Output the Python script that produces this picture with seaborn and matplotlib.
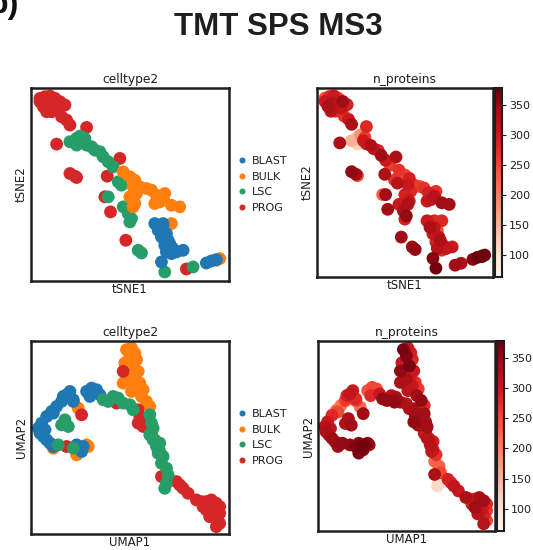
import numpy as np
import pandas as pd
import matplotlib
matplotlib.use("Agg")
import matplotlib.pyplot as plt
import seaborn as sns

# ---- data ----
celltypes = ["BLAST", "BULK", "LSC", "PROG"]
celltype_colors = ["#1f77b4", "#ff7f0e", "#279e68", "#d62728"]

tsne1 = [-27.0, -25.5, -24.0, -22.5, -21.0, -19.5, -26.0, -24.5, -23.0, -21.5, -25.0, -23.5, -27.0,
         -20.5, -19.0, -18.0, -13.0, -22.0, -18.0, -16.5, -16.0, -3.0, -6.8, -7.5, -5.8, -1.2, 17.0,
         -18.0, -16.0, -15.0, -14.0, -13.0, -11.5, -10.5, -9.0, -8.0, -6.5, -5.0, -16.0, -13.5,
         -3.5, -2.5, -6.5, -2.0, -0.5, 0.5, 0.0, 2.5, 3.5, 10.5, 19.0,
         -2.0, 0.0, 1.5, 1.0, 2.0, 1.5, 1.0, 3.0, 5.0, 6.5, 8.0, 9.0, 7.5, 10.5, 12.5, 15.0, 10.0,
         0.0, 12.5, 27.0, 26.0,
         7.5, 9.0, 10.0, 11.0, 9.5, 11.5, 10.5, 12.0, 13.0, 11.0, 12.5, 14.0, 16.0, 8.5, 10.0,
         9.5, 23.0, 24.5, 26.0]
tsne2 = [24.5, 26.0, 26.2, 25.5, 24.5, 23.5, 23.0, 24.0, 23.0, 22.5, 21.5, 21.5, 25.5,
         20.0, 19.0, 17.5, 16.8, 11.8, 3.0, 2.2, 1.8, 7.5, 2.2, -4.0, -8.5, -17.0, -25.6,
         12.5, 13.5, 14.2, 12.5, 11.5, 11.0, 10.0, 9.5, 8.0, 6.5, 5.0, 11.5, 13.5,
         0.5, -0.5, -4.0, -7.0, -9.0, -10.5, -11.5, -20.0, -20.8, -26.5, -25.0,
         3.5, 2.0, 1.0, -1.0, -3.0, -6.0, -7.0, -1.0, -1.5, -2.0, -3.5, -5.5, -6.0, -3.0, -6.5, -7.0, -4.5,
         -4.0, -12.0, -22.5, -23.0,
         -12.0, -13.0, -14.0, -15.0, -16.0, -17.0, -18.5, -18.0, -19.5, -20.5, -21.0, -20.5, -20.0, -14.0, -12.0,
         -23.5, -23.8, -23.2, -22.8]
tsne_type = (["PROG"] * 27 + ["LSC"] * 24 + ["BULK"] * 21 + ["BLAST"] * 19)
tsne_nprot = [300, 280, 300, 250, 340, 290, 330, 320, 290, 310, 320, 280, 240,
              270, 300, 330, 280, 330, 350, 340, 240, 330, 330, 230, 340, 340, 340,
              150, 130, 180, 300, 290, 330, 310, 280, 340, 300, 260, 120, 260,
              270, 320, 340, 300, 330, 350, 290, 340, 350, 370, 330,
              270, 250, 290, 300, 280, 310, 330, 260, 250, 270, 290, 310, 300, 270, 340, 340, 320,
              290, 280, 370, 360,
              300, 270, 310, 240, 300, 320, 290, 330, 300, 320, 280, 310, 300, 330, 280,
              360, 360, 375, 375]

umap1 = [-1.0, 0.5, 1.5, 0.0, 2.0, -1.5, 1.0, 2.5, 1.5, 0.0, -2.0, 3.0, 2.0, 4.0, 0.5, 3.5, 5.0, 6.0,
         -15.5, -23.0, -13.0, -12.5, -16.0,
         -2.0, -14.5, -19.0, -4.0, -3.5, 2.5, 3.0, 2.5, 4.0, 3.5, 9.5, 14.0, 16.0, 17.5, 15.0,
         20.0, 21.5, 23.0, 24.5, 26.0, 27.0, 25.5, 24.0, 26.0, 27.0, 26.0, 23.0, 22.0, 25.0, 27.0,
         -11.5, -13.0, -10.0, -9.0, -12.0, -18.0, -19.0, -17.0, -20.5, -22.0, -23.5, -25.0, -26.5,
         -27.5, -27.0, -26.0, -25.0, -24.0, -23.0, -16.0, -14.5, -15.0, -14.0, -17.0, -20.0, -23.0, -25.5,
         -19.5, -20.5, -18.5, -21.5, -17.0, -8.0, -6.5, -5.0, -3.5, -2.0, 0.0, 1.0, 6.0, 6.5, 7.0,
         6.0, 7.5, 9.0, 8.0, 9.0, 10.0, 9.5, 11.0, 11.5, 11.0, 10.5, 8.5, 7.0, 6.5]
umap2 = [26.0, 26.5, 25.0, 24.0, 23.0, 22.0, 21.0, 19.5, 18.0, 17.0, 16.0, 16.0, 15.0, 14.0, 13.5, 12.0, 10.5, 9.0,
         8.5, -3.5, -2.5, -3.0, -5.5,
         19.5, 6.5, -3.0, 10.0, 10.5, 8.0, 6.0, 4.0, 3.0, 5.0, -12.0, -13.5, -15.5, -17.0, -14.5,
         -19.0, -19.5, -19.5, -19.0, -20.0, -21.0, -22.5, -24.0, -24.5, -26.0, -27.0, -22.0, -21.0, -21.0, -23.0,
         14.5, 13.5, 14.0, 12.5, 12.0, 13.5, 12.5, 11.0, 10.5, 9.0, 7.5, 6.0, 4.0,
         2.5, 1.0, 0.0, -1.0, -2.0, -3.0, -2.5, -4.5, -3.5, -3.0, 10.5, 12.0, 7.0, 2.0,
         5.0, 3.5, 3.0, -2.5, -3.5, 11.0, 10.5, 12.0, 11.5, 10.0, 9.5, 8.0, 6.5, 4.0, 2.5,
         0.5, -1.0, -2.0, -3.0, -4.5, -6.0, -8.0, -9.5, -11.5, -14.0, -15.5, -5.0, -1.0, 1.0]
umap_type = (["BULK"] * 23 + ["PROG"] * 30 + ["BLAST"] * 27 + ["LSC"] * 29)
umap_nprot = [365, 300, 290, 360, 280, 300, 365, 300, 290, 330, 330, 270, 300, 260, 310, 340, 350, 280,
              220, 330, 350, 340, 365,
              350, 340, 350, 350, 340, 330, 340, 350, 340, 320, 330, 290, 310, 300, 280,
              330, 270, 300, 330, 340, 280, 300, 320, 290, 250, 320, 340, 290, 310, 260,
              250, 240, 250, 300, 280, 300, 310, 280, 260, 210, 220, 280, 300,
              320, 330, 320, 340, 340, 345, 355, 360, 370, 365, 260, 290, 250, 310,
              330, 320, 340, 350, 360, 350, 350, 320, 330, 330, 320, 330, 340, 330, 340,
              300, 310, 290, 320, 300, 270, 220, 230, 250, 70, 110, 310, 320, 300]

nprot_range = (63, 378)

tsne_df = pd.DataFrame({"x": tsne1, "y": tsne2, "celltype2": tsne_type, "n_proteins": tsne_nprot})
umap_df = pd.DataFrame({"x": umap1, "y": umap2, "celltype2": umap_type, "n_proteins": umap_nprot})

sns.set_style("white")
plt.rcParams["font.family"] = ["DejaVu Sans"]

W, H = 533, 550
fig = plt.figure(figsize=(W / 100, H / 100), dpi=100)
INK = "#1e1e1e"
DOT = 85


def px_axes(x0, y0, x1, y1):
    return fig.add_axes([x0 / W, 1 - y1 / H, (x1 - x0) / W, (y1 - y0) / H])


def style_frame(ax, xlabel, ylabel, title):
    ax.set_xticks([])
    ax.set_yticks([])
    ax.set_xlim(-29.7, 29.8)
    ax.set_ylim(-29.2, 28.6)
    for sp in ax.spines.values():
        sp.set_color(INK)
        sp.set_linewidth(1.8)
    ax.set_xlabel(xlabel, fontsize=8.5, labelpad=1.5, color=INK)
    ax.set_ylabel(ylabel, fontsize=8.5, labelpad=2.5, color=INK)
    ax.set_title(title, fontsize=8.8, pad=3.5, color=INK)


def cat_panel(ax, df, xlabel, ylabel):
    sns.scatterplot(data=df, x="x", y="y", hue="celltype2", hue_order=celltypes,
                    palette=celltype_colors, s=DOT, linewidth=0, alpha=1, ax=ax)
    style_frame(ax, xlabel, ylabel, "celltype2")
    sns.move_legend(ax, "center left", bbox_to_anchor=(1.0, 0.5), frameon=False, title=None,
                    fontsize=8, markerscale=0.47, handletextpad=-0.1, labelspacing=0.5,
                    borderaxespad=0.0, borderpad=0.2)
    for t in ax.get_legend().get_texts():
        t.set_color(INK)


def cont_panel(ax, cax, df, xlabel, ylabel):
    d = df.sort_values("n_proteins")
    sns.scatterplot(data=d, x="x", y="y", hue="n_proteins", palette="Reds", hue_norm=nprot_range,
                    s=DOT, linewidth=0, legend=False, ax=ax)
    style_frame(ax, xlabel, ylabel, "n_proteins")
    sm = plt.cm.ScalarMappable(cmap="Reds", norm=plt.Normalize(*nprot_range))
    cb = fig.colorbar(sm, cax=cax)
    cb.set_ticks([100, 150, 200, 250, 300, 350])
    cb.ax.tick_params(labelsize=8, length=3, width=0.8, pad=2, colors=INK)
    cb.outline.set_edgecolor(INK)
    cb.outline.set_linewidth(1.5)


ax1 = px_axes(31, 88, 229, 281)
ax2 = px_axes(317, 88, 493, 277)
cax2 = px_axes(495, 88, 502, 277)
ax3 = px_axes(31, 341, 229, 534)
ax4 = px_axes(318, 341, 495, 531)
cax4 = px_axes(497, 341, 504, 531)

cat_panel(ax1, tsne_df, "tSNE1", "tSNE2")
cont_panel(ax2, cax2, tsne_df, "tSNE1", "tSNE2")
cat_panel(ax3, umap_df, "UMAP1", "UMAP2")
cont_panel(ax4, cax4, umap_df, "UMAP1", "UMAP2")

fig.text(278 / W, 1 - 27 / H, "TMT SPS MS3", ha="center", va="center", fontsize=22.5,
         fontweight="bold", family=["Liberation Sans", "DejaVu Sans"], color=INK)
# panel letter, partly cut off at the top-left edge as in the source figure
fig.text(19 / W, 1 - 13 / H, "b)", ha="right", va="baseline", fontsize=23,
         fontweight="bold", family=["Liberation Sans", "DejaVu Sans"], color="#111111")

fig.savefig("out.png", dpi=100)
